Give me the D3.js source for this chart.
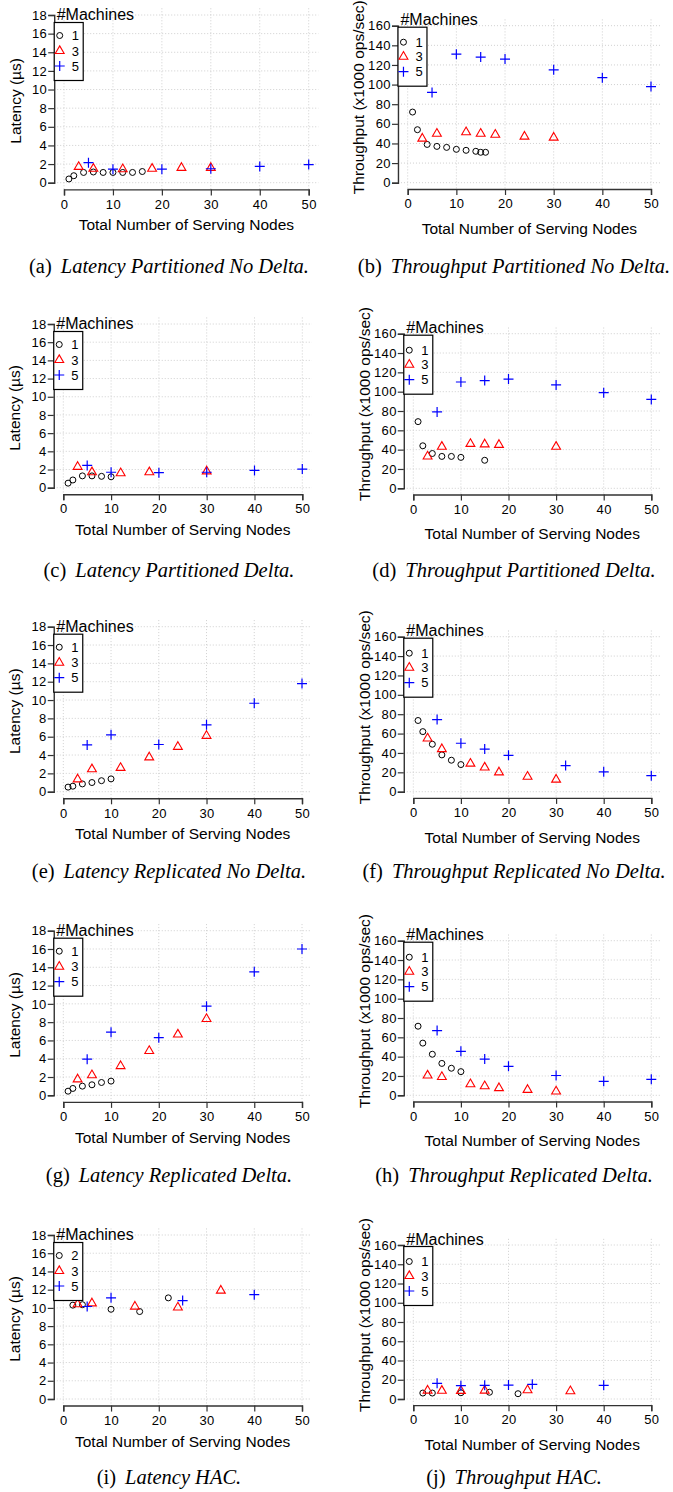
<!DOCTYPE html>
<html>
<head>
<meta charset="utf-8">
<script src="https://cdn.jsdelivr.net/npm/d3@7"></script>
<style>
  body { margin: 0; background: #fff; }
  svg text { font-family: "Liberation Sans", Arial, sans-serif; fill: #000; }
  .cap text, text.cap { font-family: "Liberation Serif", "Times New Roman", serif; }
  .tick text { font-size: 13px; letter-spacing: 0.4px; }
</style>
</head>
<body>
<div id="fig"></div>
<script>
// data: [total serving nodes, value] for each number of machines
// latency in µs, throughput in 1000 ops/sec
var latPartNoDelta1 = [[1,0.4],[2,0.75],[4,1.1],[6,1.15],[8,1.1],[10,1.1],[12,1.1],[14,1.1],[16,1.2]];
var latPartNoDelta3 = [[3,1.7],[6,1.5],[12,1.45],[18,1.5],[24,1.6],[30,1.6]];
var latPartNoDelta5 = [[5,2.15],[10,1.45],[20,1.45],[30,1.5],[40,1.75],[50,1.95]];

var thrPartNoDelta1 = [[1,72],[2,54],[4,39],[6,37],[8,36],[10,34],[12,33],[14,32],[15,31],[16,31]];
var thrPartNoDelta3 = [[3,45],[6,50],[12,51.5],[15,50],[18,49],[24,47],[30,46]];
var thrPartNoDelta5 = [[5,92],[10,131],[15,128],[20,126],[30,115],[40,107],[50,98]];

var latPartDelta1 = [[1,0.5],[2,0.85],[4,1.3],[6,1.3],[8,1.25],[10,1.2]];
var latPartDelta3 = [[3,2.3],[6,1.7],[12,1.6],[18,1.7],[30,1.8]];
var latPartDelta5 = [[5,2.45],[10,1.7],[20,1.65],[30,1.7],[40,1.9],[50,2.05]];

var thrPartDelta1 = [[1,69],[2,44],[4,36],[6,33],[8,33],[10,32],[15,29]];
var thrPartDelta3 = [[3,33],[6,43],[12,46],[15,45.5],[18,45],[30,43]];
var thrPartDelta5 = [[5,79],[10,110],[15,111.5],[20,113],[30,107],[40,99],[50,92]];

var latReplNoDelta1 = [[1,0.5],[2,0.6],[4,0.85],[6,1.0],[8,1.2],[10,1.4]];
var latReplNoDelta3 = [[3,1.35],[6,2.45],[12,2.6],[18,3.75],[24,4.9],[30,6.1]];
var latReplNoDelta5 = [[5,5.1],[10,6.2],[20,5.15],[30,7.3],[40,9.65],[50,11.8]];

var thrReplNoDelta1 = [[1,73.5],[2,62],[4,49],[6,38],[8,32.5],[10,28]];
var thrReplNoDelta3 = [[3,55],[6,44],[12,29],[15,25],[18,20],[24,15.5],[30,12.5]];
var thrReplNoDelta5 = [[5,74.5],[10,50],[15,44],[20,37.5],[32,27],[40,20.5],[50,16.5]];

var latReplDelta1 = [[1,0.45],[2,0.75],[4,1.0],[6,1.15],[8,1.4],[10,1.55]];
var latReplDelta3 = [[3,1.75],[6,2.2],[12,3.2],[18,4.85],[24,6.65],[30,8.35]];
var latReplDelta5 = [[5,3.95],[10,6.9],[20,6.3],[30,9.75],[40,13.5],[50,16]];

var thrReplDelta1 = [[1,71.5],[2,54],[4,42.5],[6,33],[8,28],[10,24.5]];
var thrReplDelta3 = [[3,20.5],[6,19],[12,11.5],[15,9.5],[18,7.5],[24,5.7],[30,4]];
var thrReplDelta5 = [[5,67],[10,45.5],[15,37.5],[20,30],[30,20.5],[40,14.5],[50,16.5]];

var latHac2 = [[2,10.3],[4,10.35],[10,9.85],[16,9.6],[22,11.1]];
var latHac3 = [[3,10.4],[6,10.5],[15,10.15],[24,10.05],[33,11.9]];
var latHac5 = [[5,10.15],[10,11.1],[25,10.8],[40,11.45]];

var thrHac1 = [[2,6.2],[4,6.2],[10,6.5],[16,7.0],[22,5.5]];
var thrHac3 = [[3,8.8],[6,8.6],[10,8.5],[15,8.8],[24,9.2],[33,8.1]];
var thrHac5 = [[5,16.3],[10,13.8],[15,14.2],[20,14.5],[25,15.2],[40,14.2]];

var xTicks = [0, 10, 20, 30, 40, 50];
var latTicks = [0, 2, 4, 6, 8, 10, 12, 14, 16, 18];
var thrTicks = [0, 20, 40, 60, 80, 100, 120, 140, 160];
var machineLabels = ["1", "3", "5"];
var machineLabelsHac = ["2", "3", "5"];
var captionTitles = [
  "Latency Partitioned No Delta.", "Throughput Partitioned No Delta.",
  "Latency Partitioned Delta.", "Throughput Partitioned Delta.",
  "Latency Replicated No Delta.", "Throughput Replicated No Delta.",
  "Latency Replicated Delta.", "Throughput Replicated Delta.",
  "Latency HAC.", "Throughput HAC."
];
var captionLetters = ["a", "b", "c", "d", "e", "f", "g", "h", "i", "j"];

var svgWidth = 673;
var svgHeight = 1492;

var svg = d3.select("#fig").append("svg")
  .attr("width", svgWidth)
  .attr("height", svgHeight)
  .style("background", "#fff");

// pixel anchors of each panel: x of 0 and 50, y of 0 and top tick
var layout = [
  {x0: 64,    x50: 308.7, y0: 182.7,  yTop: 15,    capY: 273},
  {x0: 407.7, x50: 651,   y0: 182.7,  yTop: 25.7,  capY: 273},
  {x0: 63.3,  x50: 302.3, y0: 487.7,  yTop: 324,   capY: 577},
  {x0: 413.3, x50: 651.3, y0: 488.3,  yTop: 333.7, capY: 577},
  {x0: 63.3,  x50: 302,   y0: 791.7,  yTop: 626.7, capY: 878},
  {x0: 413.3, x50: 651.3, y0: 791.7,  yTop: 636.7, capY: 878},
  {x0: 63.3,  x50: 302,   y0: 1095.3, yTop: 930.7, capY: 1182},
  {x0: 413.3, x50: 651.3, y0: 1095.3, yTop: 940.7, capY: 1182},
  {x0: 63.3,  x50: 302,   y0: 1399,   yTop: 1235,  capY: 1484},
  {x0: 413.3, x50: 651.3, y0: 1399,   yTop: 1245,  capY: 1484}
];

var panels = [
  [latPartNoDelta1, latPartNoDelta3, latPartNoDelta5],
  [thrPartNoDelta1, thrPartNoDelta3, thrPartNoDelta5],
  [latPartDelta1, latPartDelta3, latPartDelta5],
  [thrPartDelta1, thrPartDelta3, thrPartDelta5],
  [latReplNoDelta1, latReplNoDelta3, latReplNoDelta5],
  [thrReplNoDelta1, thrReplNoDelta3, thrReplNoDelta5],
  [latReplDelta1, latReplDelta3, latReplDelta5],
  [thrReplDelta1, thrReplDelta3, thrReplDelta5],
  [latHac2, latHac3, latHac5],
  [thrHac1, thrHac3, thrHac5]
];

var colors = ["#000", "#ff0000", "#0000ff"];

// draw one marker (circle / triangle / plus) into a group
function drawMarker(g, kind, x, y) {
  if (kind === 0) {
    g.append("circle").attr("cx", x).attr("cy", y).attr("r", 3)
      .attr("fill", "none").attr("stroke", colors[0]).attr("stroke-width", 1);
  } else if (kind === 1) {
    g.append("path").attr("d", d3.symbol(d3.symbolTriangle, 34)())
      .attr("transform", `translate(${x},${y})`)
      .attr("fill", "none").attr("stroke", colors[1]).attr("stroke-width", 1.1);
  } else {
    g.append("path").attr("d", `M${x - 5},${y}H${x + 5}M${x},${y - 5}V${y + 5}`)
      .attr("fill", "none").attr("stroke", colors[2]).attr("stroke-width", 1.2);
  }
}

panels.forEach(function(series, i) {
  var L = layout[i];
  var isLat = (i % 2 === 0);
  var yMax = isLat ? 18 : 160;
  var yTicks = isLat ? latTicks : thrTicks;

  var x = d3.scaleLinear().domain([0, 50]).range([L.x0, L.x50]);
  var y = d3.scaleLinear().domain([0, yMax]).range([L.y0, L.yTop]);

  // R style plot region: 4% beyond the data range
  var left = x(-2), right = x(52);
  var bottom = y(-0.04 * yMax), top = y(yMax * 1.04);

  var g = svg.append("g");

  // dotted grid
  g.selectAll(".vg").data(xTicks).enter().append("line")
    .attr("x1", d => x(d)).attr("x2", d => x(d))
    .attr("y1", top).attr("y2", bottom)
    .attr("stroke", "#cfcfcf").attr("stroke-dasharray", "1,2");
  g.selectAll(".hg").data(yTicks).enter().append("line")
    .attr("x1", left).attr("x2", right)
    .attr("y1", d => y(d)).attr("y2", d => y(d))
    .attr("stroke", "#cfcfcf").attr("stroke-dasharray", "1,2");

  // axes
  var xAxis = g.append("g")
    .attr("transform", `translate(0, ${bottom})`)
    .call(d3.axisBottom(x).tickValues(xTicks).tickSizeOuter(0).tickSize(6).tickPadding(4));
  var yAxis = g.append("g")
    .attr("transform", `translate(${left}, 0)`)
    .call(d3.axisLeft(y).tickValues(yTicks).tickSizeOuter(0).tickSize(6).tickPadding(1));
  [xAxis, yAxis].forEach(function(a) {
    a.select(".domain").attr("stroke", "#333").attr("stroke-width", 1.4);
    a.selectAll(".tick line").attr("stroke", "#333").attr("stroke-width", 1.2);
    a.selectAll(".tick text").attr("fill", "#000");
  });

  // axis titles
  g.append("text")
    .attr("x", (left + right) / 2)
    .attr("y", bottom + (isLat ? 41 : 45))
    .attr("text-anchor", "middle")
    .style("font-size", "15.5px")
    .text("Total Number of Serving Nodes");
  var ty = (top + bottom) / 2 - (isLat ? -2 : 7);
  g.append("text")
    .attr("transform", `translate(${left - 33.5}, ${ty}) rotate(-90)`)
    .attr("text-anchor", "middle")
    .style("font-size", "15.5px")
    .text(isLat ? "Latency (µs)" : "Throughput (x1000 ops/sec)");

  // markers
  series.forEach(function(pts, k) {
    var mg = g.append("g");
    pts.forEach(function(p) { drawMarker(mg, k, x(p[0]), y(p[1])); });
  });

  // legend
  var lt = y(yMax);
  var boxTop = lt + (isLat ? 7.5 : 1.5);
  var boxBot = lt + (isLat ? 65.5 : 60.5);
  var rows = isLat ? [20.5, 36, 51] : [16.5, 31, 46];
  g.append("rect")
    .attr("x", left).attr("y", boxTop)
    .attr("width", 29).attr("height", boxBot - boxTop)
    .attr("fill", "#fff").attr("stroke", "#000").attr("stroke-width", 1.2);
  g.append("text")
    .attr("x", left + 2.5).attr("y", lt + (isLat ? 5 : -0.5))
    .style("font-size", "16px")
    .text("#Machines");
  var labels = (i === 8) ? machineLabelsHac : machineLabels;
  labels.forEach(function(lab, k) {
    drawMarker(g, k, left + 5.5, lt + rows[k]);
    g.append("text")
      .attr("x", left + 17.5).attr("y", lt + rows[k] + 4.5)
      .style("font-size", "13px")
      .text(lab);
  });

  // caption
  var cap = g.append("text")
    .attr("class", "cap")
    .attr("x", isLat ? 169 : 514)
    .attr("y", L.capY)
    .attr("text-anchor", "middle")
    .style("font-size", "20.5px");
  cap.append("tspan").text("(" + captionLetters[i] + ")");
  cap.append("tspan").attr("dx", 9).style("font-style", "italic").text(captionTitles[i]);
});
</script>
</body>
</html>
